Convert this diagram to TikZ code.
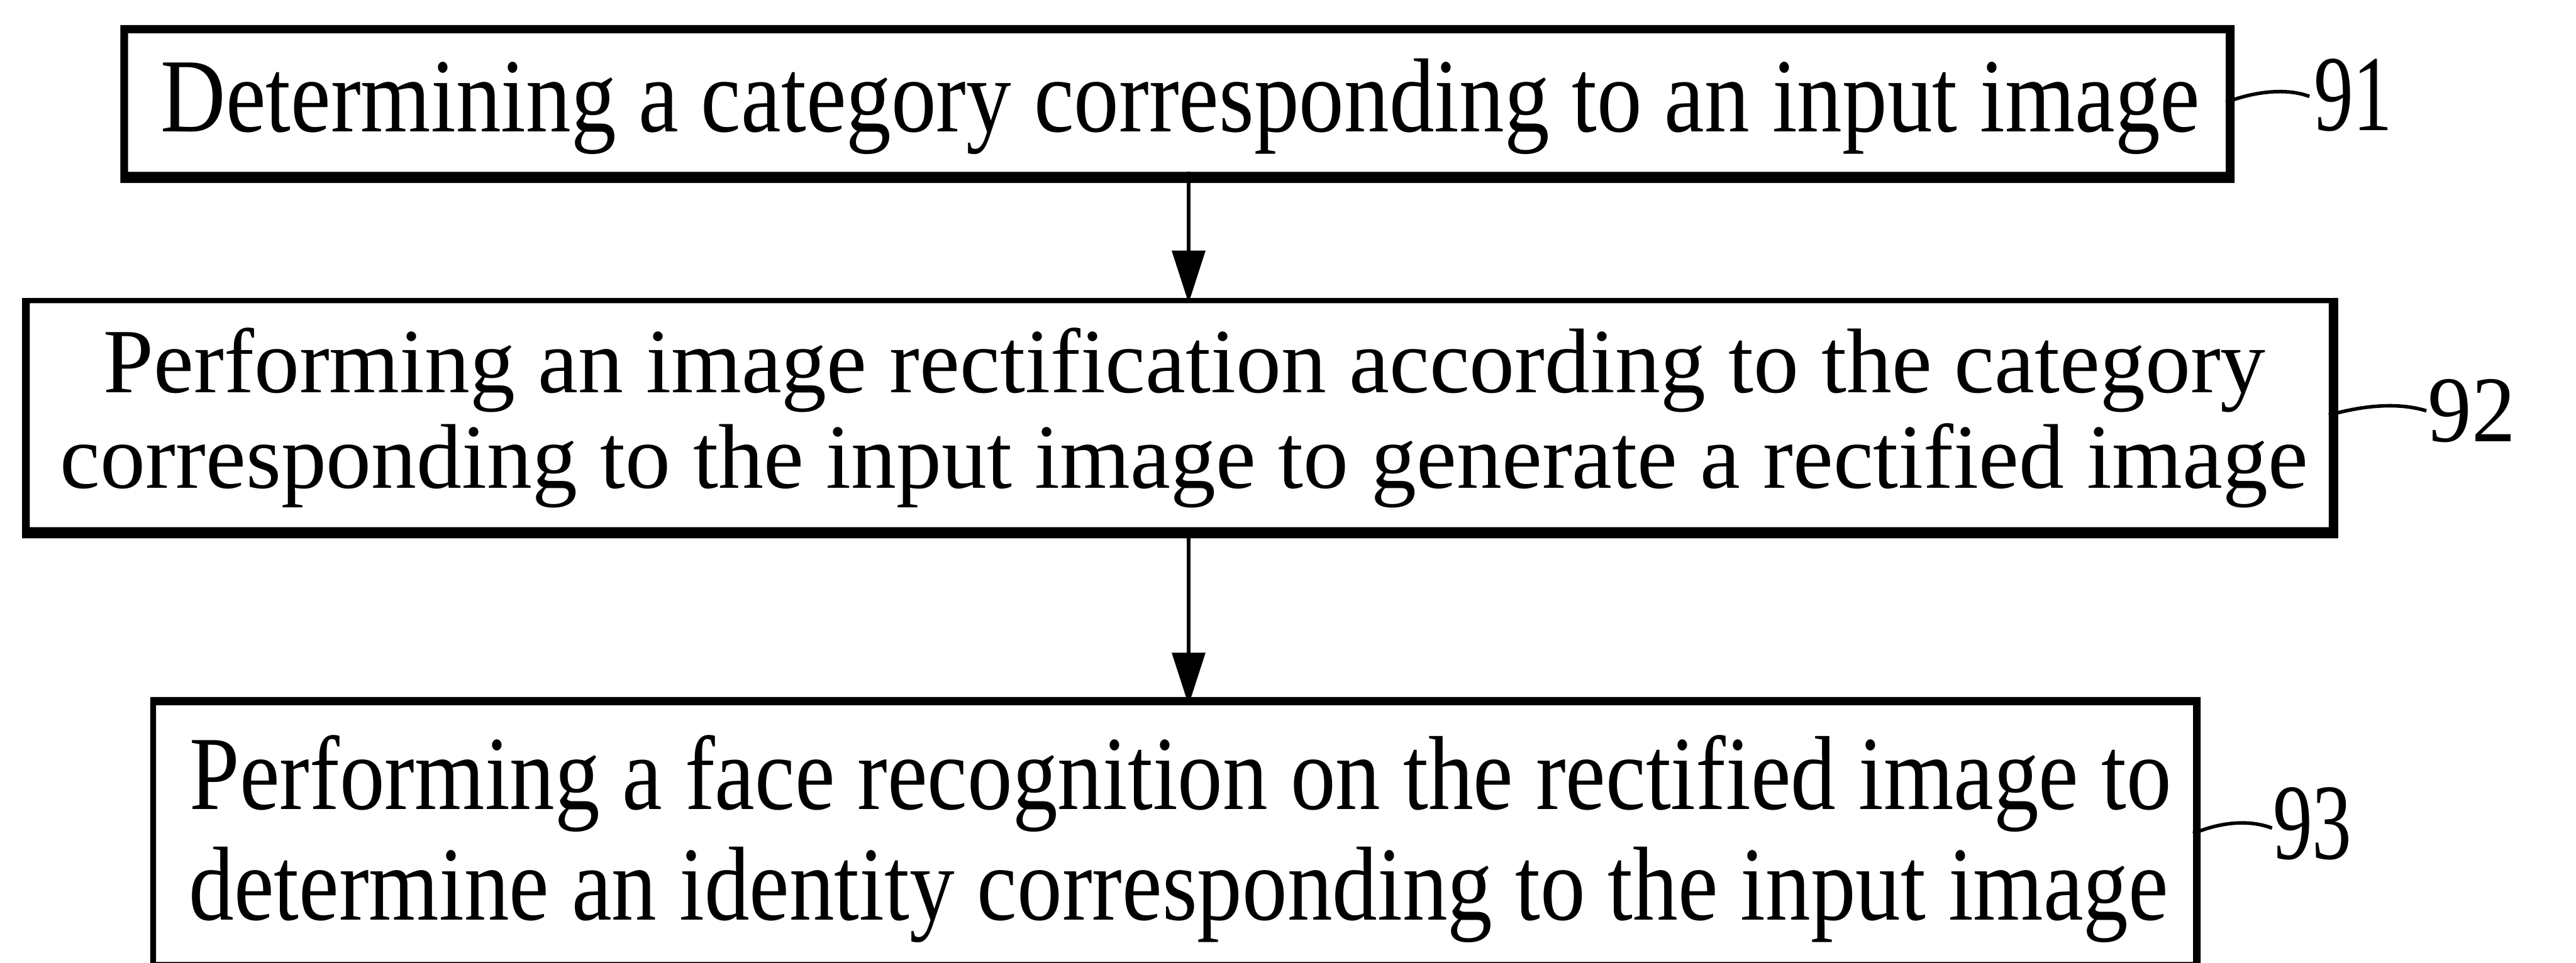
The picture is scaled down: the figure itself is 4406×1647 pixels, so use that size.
\documentclass[tikz,border=0pt]{standalone}
\usepackage{fontspec}
\setmainfont{Liberation Serif}
\newfontfamily\fontA[FakeStretch=0.856]{Liberation Serif}
\newfontfamily\fontB[FakeStretch=0.984]{Liberation Serif}
\newfontfamily\fontL[FakeStretch=0.73]{Liberation Serif}
\newfontfamily\fontM[FakeStretch=0.93]{Liberation Serif}
\usetikzlibrary{arrows.meta}
\tikzset{
  stepbox/.style={draw=none, inner sep=0pt, outer sep=0pt},
  bigtext/.style={inner sep=0pt, anchor=base, font=\fontA\fontsize{51.2pt}{60pt}\selectfont},
  midtext/.style={inner sep=0pt, anchor=base, font=\fontB\fontsize{44.7pt}{52pt}\selectfont},
  reflabel/.style={inner sep=0pt, anchor=base, font=\fontL\fontsize{52.6pt}{60pt}\selectfont},
  reflabelb/.style={inner sep=0pt, anchor=base, font=\fontM\fontsize{45.8pt}{52pt}\selectfont},
  leader/.style={line width=0.06cm},
  flow/.style={line width=0.07cm, -{Triangle[width=0.56cm,length=0.9cm]}},
}
\begin{document}
\begin{tikzpicture}[x=0.01cm, y=-0.01cm]
\useasboundingbox (0,0) rectangle (4406,1647);
\clip (0,0) rectangle (4406,1647);
\fill[white] (0,0) rectangle (4406,1647);

% boxes (inner areas)
\node[stepbox, minimum width=35.86cm, minimum height=2.37cm] (b1) at (2013,175.5) {};
\node[stepbox, minimum width=39.30cm, minimum height=3.83cm] (b2) at (2017,710.5) {};
\node[stepbox, minimum width=34.82cm, minimum height=4.39cm] (b3) at (2009,1426.5) {};

% borders (thicker at bottom and right)
\fill[black, even odd rule] ([shift={(-13,-14)}]b1.north west) rectangle ([shift={(15,19)}]b1.south east)
  (b1.north west) rectangle (b1.south east);
\fill[black, even odd rule] ([shift={(-13,-9)}]b2.north west) rectangle ([shift={(16,19)}]b2.south east)
  (b2.north west) rectangle (b2.south east);
\fill[black, even odd rule] ([shift={(-10,-14)}]b3.north west) rectangle ([shift={(13,19)}]b3.south east)
  (b3.north west) rectangle (b3.south east);

% texts
\node[bigtext] (t1) at (2019,225) {Determining a category corresponding to an input image};
\node[midtext] (t2a) at (2026,672) {Performing an image rectification according to the category};
\node[midtext] (t2b) at (2025,835) {corresponding to the input image to generate a rectified image};
\node[bigtext] (t3a) at (2019,1385) {Performing a face recognition on the rectified image to};
\node[bigtext] (t3b) at (2016,1574) {determine an identity corresponding to the input image};

% reference labels
\node[reflabel] (l1) at (4025,223) {91};
\node[reflabelb] (l2) at (4228,756) {92};
\node[reflabel] (l3) at (3955,1470) {93};

\coordinate (e1) at (3950,165);
\coordinate (e2) at (4150,703);
\coordinate (e3) at (3886,1417);
\draw[leader] (b1.east) .. controls (3845,160) and (3905,148) .. (e1);
\draw[leader] (b2.east) .. controls (4030,697) and (4095,686) .. (e2);
\draw[leader] (b3.east) .. controls (3790,1410) and (3840,1400) .. (e3);

% connectors
\coordinate (ax) at (2033,0);
\draw[flow] (b1.south -| ax) -- (b2.north -| ax);
\draw[flow] (b2.south -| ax) -- (b3.north -| ax);
\end{tikzpicture}
\end{document}
